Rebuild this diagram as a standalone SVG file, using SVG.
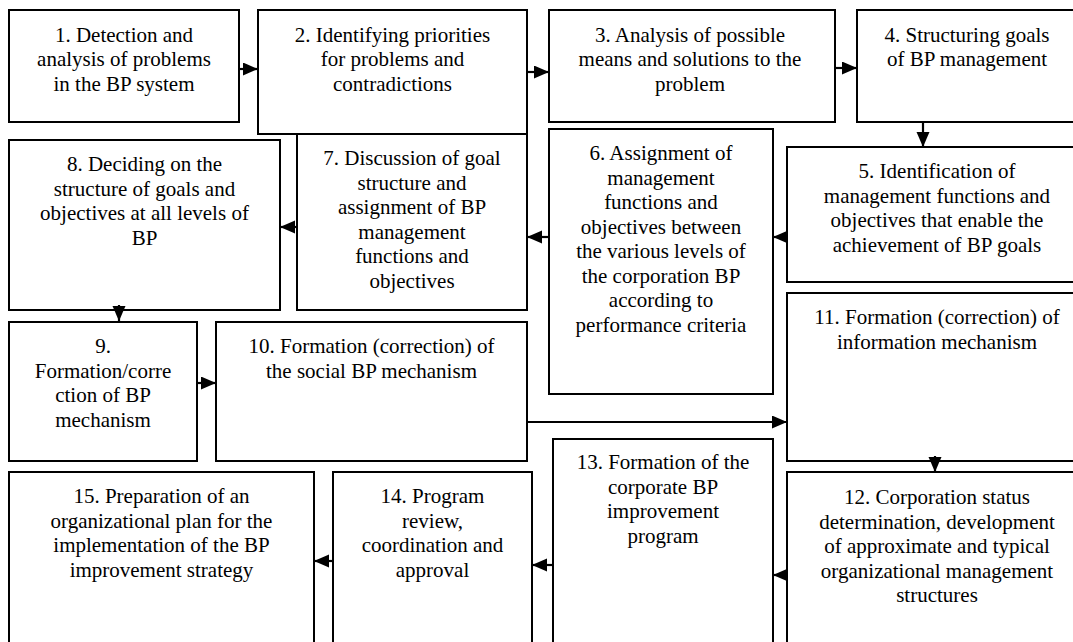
<svg xmlns="http://www.w3.org/2000/svg" width="1073" height="642" viewBox="0 0 1073 642">
<style>
.box{fill:#fff;stroke:#000;stroke-width:2}
.t{font-family:'Liberation Serif','DejaVu Serif',serif;font-size:21px;fill:#000;text-anchor:middle}
.c{fill:none;stroke:#000;stroke-width:2.2}
</style>
<defs>
<marker id="ah" markerUnits="userSpaceOnUse" markerWidth="16" markerHeight="14" refX="15" refY="6.5" orient="auto">
<path d="M0,0 L15,6.5 L0,13 Z" fill="#000"/>
</marker>
</defs>
<rect width="1073" height="642" fill="#fff"/>
<g id="n1"><rect class="box" x="9" y="10" width="230" height="112"/>
<text class="t" font-family="Liberation Serif, serif" x="124" y="41.5"><tspan x="124">1. Detection and</tspan><tspan x="124" dy="24.5">analysis of problems</tspan><tspan x="124" dy="24.5">in the BP system</tspan></text></g>
<g id="n2"><rect class="box" x="258" y="10" width="269" height="124"/>
<text class="t" x="392.5" y="41.5"><tspan x="392.5">2. Identifying priorities</tspan><tspan x="392.5" dy="24.5">for problems and</tspan><tspan x="392.5" dy="24.5">contradictions</tspan></text></g>
<g id="n3"><rect class="box" x="549" y="10" width="286" height="112"/>
<text class="t" x="690" y="41.5"><tspan x="690">3. Analysis of possible</tspan><tspan x="690" dy="24.5">means and solutions to the</tspan><tspan x="690" dy="24.5">problem</tspan></text></g>
<g id="n4"><rect class="box" x="857" y="10" width="220" height="112"/>
<text class="t" x="967" y="41.5"><tspan x="967">4. Structuring goals</tspan><tspan x="967" dy="24.5">of BP management</tspan></text></g>
<g id="n5"><rect class="box" x="787" y="147" width="300" height="135"/>
<text class="t" x="937" y="178"><tspan x="937">5. Identification of</tspan><tspan x="937" dy="24.5">management functions and</tspan><tspan x="937" dy="24.5">objectives that enable the</tspan><tspan x="937" dy="24.5">achievement of BP goals</tspan></text></g>
<g id="n6"><rect class="box" x="549" y="129" width="224" height="265"/>
<text class="t" x="661" y="160"><tspan x="661">6. Assignment of</tspan><tspan x="661" dy="24.5">management</tspan><tspan x="661" dy="24.5">functions and</tspan><tspan x="661" dy="24.5">objectives between</tspan><tspan x="661" dy="24.5">the various levels of</tspan><tspan x="661" dy="24.5">the corporation BP</tspan><tspan x="661" dy="24.5">according to</tspan><tspan x="661" dy="24.5">performance criteria</tspan></text></g>
<g id="n7"><rect class="box" x="297" y="134" width="230" height="176"/>
<text class="t" x="412" y="165"><tspan x="412">7. Discussion of goal</tspan><tspan x="412" dy="24.5">structure and</tspan><tspan x="412" dy="24.5">assignment of BP</tspan><tspan x="412" dy="24.5">management</tspan><tspan x="412" dy="24.5">functions and</tspan><tspan x="412" dy="24.5">objectives</tspan></text></g>
<g id="n8"><rect class="box" x="9" y="140" width="271" height="170"/>
<text class="t" x="144.5" y="171"><tspan x="144.5">8. Deciding on the</tspan><tspan x="144.5" dy="24.5">structure of goals and</tspan><tspan x="144.5" dy="24.5">objectives at all levels of</tspan><tspan x="144.5" dy="24.5">BP</tspan></text></g>
<g id="n9"><rect class="box" x="9" y="322" width="188" height="139"/>
<text class="t" x="103" y="353"><tspan x="103">9.</tspan><tspan x="103" dy="24.5">Formation/corre</tspan><tspan x="103" dy="24.5">ction of BP</tspan><tspan x="103" dy="24.5">mechanism</tspan></text></g>
<g id="n10"><rect class="box" x="216" y="322" width="311" height="139"/>
<text class="t" x="371.5" y="353"><tspan x="371.5">10. Formation (correction) of</tspan><tspan x="371.5" dy="24.5">the social BP mechanism</tspan></text></g>
<g id="n11"><rect class="box" x="787" y="293" width="300" height="168"/>
<text class="t" x="937" y="324"><tspan x="937">11. Formation (correction) of</tspan><tspan x="937" dy="24.5">information mechanism</tspan></text></g>
<g id="n12"><rect class="box" x="787" y="472" width="300" height="185"/>
<text class="t" x="937" y="504"><tspan x="937">12. Corporation status</tspan><tspan x="937" dy="24.5">determination, development</tspan><tspan x="937" dy="24.5">of approximate and typical</tspan><tspan x="937" dy="24.5">organizational management</tspan><tspan x="937" dy="24.5">structures</tspan></text></g>
<g id="n13"><rect class="box" x="553" y="439" width="220" height="218"/>
<text class="t" x="663" y="469"><tspan x="663">13. Formation of the</tspan><tspan x="663" dy="24.5">corporate BP</tspan><tspan x="663" dy="24.5">improvement</tspan><tspan x="663" dy="24.5">program</tspan></text></g>
<g id="n14"><rect class="box" x="333" y="472" width="199" height="185"/>
<text class="t" x="432.5" y="503"><tspan x="432.5">14. Program</tspan><tspan x="432.5" dy="24.5">review,</tspan><tspan x="432.5" dy="24.5">coordination and</tspan><tspan x="432.5" dy="24.5">approval</tspan></text></g>
<g id="n15"><rect class="box" x="9" y="472" width="305" height="185"/>
<text class="t" x="161.5" y="503"><tspan x="161.5">15. Preparation of an</tspan><tspan x="161.5" dy="24.5">organizational plan for the</tspan><tspan x="161.5" dy="24.5">implementation of the BP</tspan><tspan x="161.5" dy="24.5">improvement strategy</tspan></text></g>
<g id="connectors">
<path class="c" d="M239,69 L258,69" marker-end="url(#ah)"/>
<path class="c" d="M527,72 L549,72" marker-end="url(#ah)"/>
<path class="c" d="M835,68 L857,68" marker-end="url(#ah)"/>
<path class="c" d="M923,122 L923,147" marker-end="url(#ah)"/>
<path class="c" d="M787,237 L773,237" marker-end="url(#ah)"/>
<path class="c" d="M549,237 L527,237" marker-end="url(#ah)"/>
<path class="c" d="M297,227 L280,227" marker-end="url(#ah)"/>
<path class="c" d="M119,305 L119,321" marker-end="url(#ah)"/>
<path class="c" d="M197,383 L216,383" marker-end="url(#ah)"/>
<path class="c" d="M527,422 L787,422" marker-end="url(#ah)"/>
<path class="c" d="M935,456 L935,472" marker-end="url(#ah)"/>
<path class="c" d="M787,575 L773,575" marker-end="url(#ah)"/>
<path class="c" d="M553,565 L532,565" marker-end="url(#ah)"/>
<path class="c" d="M333,561 L314,561" marker-end="url(#ah)"/>
</g>
</svg>
